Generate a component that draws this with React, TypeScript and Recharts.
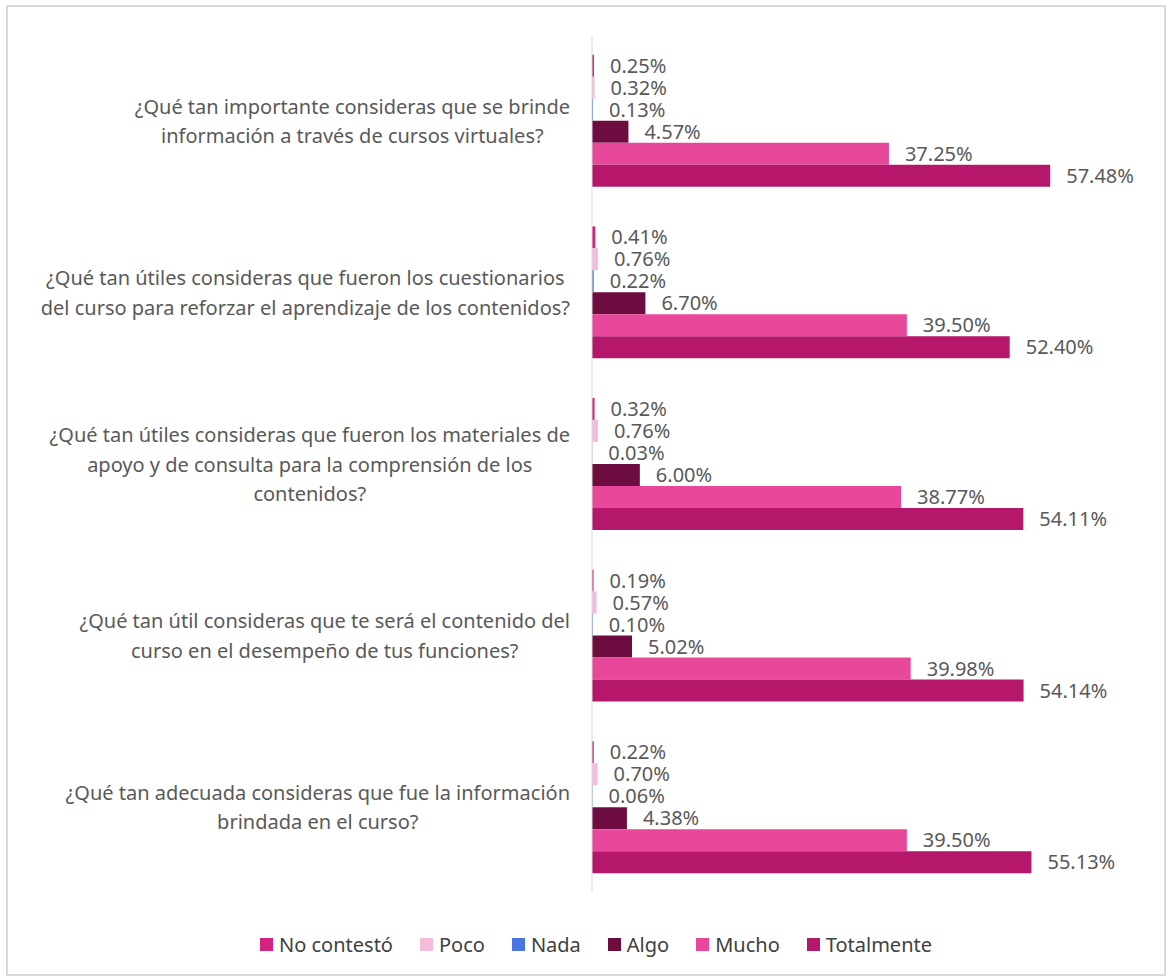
import React from "react";
import { BarChart, Bar, XAxis, YAxis, Legend, LabelList } from "recharts";

const questions = [
  "¿Qué tan importante consideras que se brinde\ninformación a través de cursos virtuales?",
  "¿Qué tan útiles consideras que fueron los cuestionarios\ndel curso para reforzar el aprendizaje de los contenidos?",
  "¿Qué tan útiles consideras que fueron los materiales de\napoyo y de consulta para la comprensión de los\ncontenidos?",
  "¿Qué tan útil consideras que te será el contenido del\ncurso en el desempeño de tus funciones?",
  "¿Qué tan adecuada consideras que fue la información\nbrindada en el curso?",
];

const noContesto = [0.25, 0.41, 0.32, 0.19, 0.22];
const poco = [0.32, 0.76, 0.76, 0.57, 0.7];
const nada = [0.13, 0.22, 0.03, 0.1, 0.06];
const algo = [4.57, 6.7, 6.0, 5.02, 4.38];
const mucho = [37.25, 39.5, 38.77, 39.98, 39.5];
const totalmente = [57.48, 52.4, 54.11, 54.14, 55.13];

const seriesNames = ["No contestó", "Poco", "Nada", "Algo", "Mucho", "Totalmente"];
const seriesKeys = ["nc", "poco", "nada", "algo", "mucho", "total"];
const seriesColors = ["#D4237F", "#F5BCDA", "#4A76E4", "#6D0C3F", "#E8489A", "#B5186A"];

const data = questions.map((q, i) => ({
  q,
  nc: noContesto[i],
  poco: poco[i],
  nada: nada[i],
  algo: algo[i],
  mucho: mucho[i],
  total: totalmente[i],
}));

const FONT = "'Noto Sans', sans-serif";
const FS = 20;

let canvasCtx: CanvasRenderingContext2D | null = null;
function measure(t: string): number {
  if (!canvasCtx) {
    const c = document.createElement("canvas");
    canvasCtx = c.getContext("2d");
  }
  if (!canvasCtx) return t.length * 10;
  canvasCtx.font = `${FS}px 'Noto Sans'`;
  return canvasCtx.measureText(t).width;
}

const QTick = (props: any) => {
  const { x, y, payload } = props;
  const lines: string[] = String(payload.value).split("\n");
  const maxW = Math.max(...lines.map(measure));
  const right = x - 22;
  const cx = right - maxW / 2;
  const lh = 29.5;
  const y0 = y - ((lines.length - 1) * lh) / 2;
  return (
    <g>
      {lines.map((l, i) => (
        <text
          key={i}
          x={cx}
          y={y0 + i * lh}
          textAnchor="middle"
          dominantBaseline="central"
          fill="#595959"
          fontSize={FS}
          fontFamily={FONT}
        >
          {l}
        </text>
      ))}
    </g>
  );
};

const LegendContent = () => {
  return (
    <div
      style={{
        display: "flex",
        justifyContent: "center",
        alignItems: "center",
        fontFamily: FONT,
        fontSize: FS,
        lineHeight: "27px",
        color: "#404040",
      }}
    >
      {seriesNames.map((name, i) => (
        <div
          key={name}
          style={{ display: "flex", alignItems: "center", marginRight: i < seriesNames.length - 1 ? 27 : 0 }}
        >
          <div style={{ width: 13, height: 13, flexShrink: 0, background: seriesColors[i], marginRight: 6 }} />
          <span>{name}</span>
        </div>
      ))}
    </div>
  );
};

export default function App() {
  return (
    <div
      style={{
        position: "absolute",
        left: 6,
        top: 5,
        width: 1160,
        height: 971,
        background: "#fff",
      }}
    >
      <BarChart
        width={1160}
        height={971}
        data={data}
        layout="vertical"
        margin={{ top: 30, right: 16, bottom: 56, left: 0 }}
        barCategoryGap="11.5%"
        barGap={0}
      >
        <XAxis type="number" domain={[0, 70]} hide />
        <YAxis
          type="category"
          dataKey="q"
          width={586}
          tickSize={0}
          tickMargin={0}
          tickLine={false}
          axisLine={{ stroke: "#D9D9D9", strokeWidth: 1 }}
          tick={<QTick />}
          interval={0}
        />
        <Legend
          content={<LegendContent />}
          verticalAlign="bottom"
          wrapperStyle={{ top: 926, left: 10, width: 1160, height: 27 }}
        />
        {seriesKeys.map((k, i) => (
          <Bar
            key={k}
            dataKey={k}
            name={seriesNames[i]}
            fill={seriesColors[i]}
            isAnimationActive={false}
          >
            <LabelList
              dataKey={k}
              position="right"
              offset={16}
              fill="#595959"
              fontSize={FS}
              fontFamily={FONT}
              formatter={(v: any) => `${Number(v).toFixed(2)}%`}
            />
          </Bar>
        ))}
      </BarChart>
      <div
        style={{
          position: "absolute",
          left: 0,
          top: 0,
          width: 1160,
          height: 971,
          border: "2px solid #D9D9D9",
          boxSizing: "border-box",
          pointerEvents: "none",
        }}
      />
    </div>
  );
}
